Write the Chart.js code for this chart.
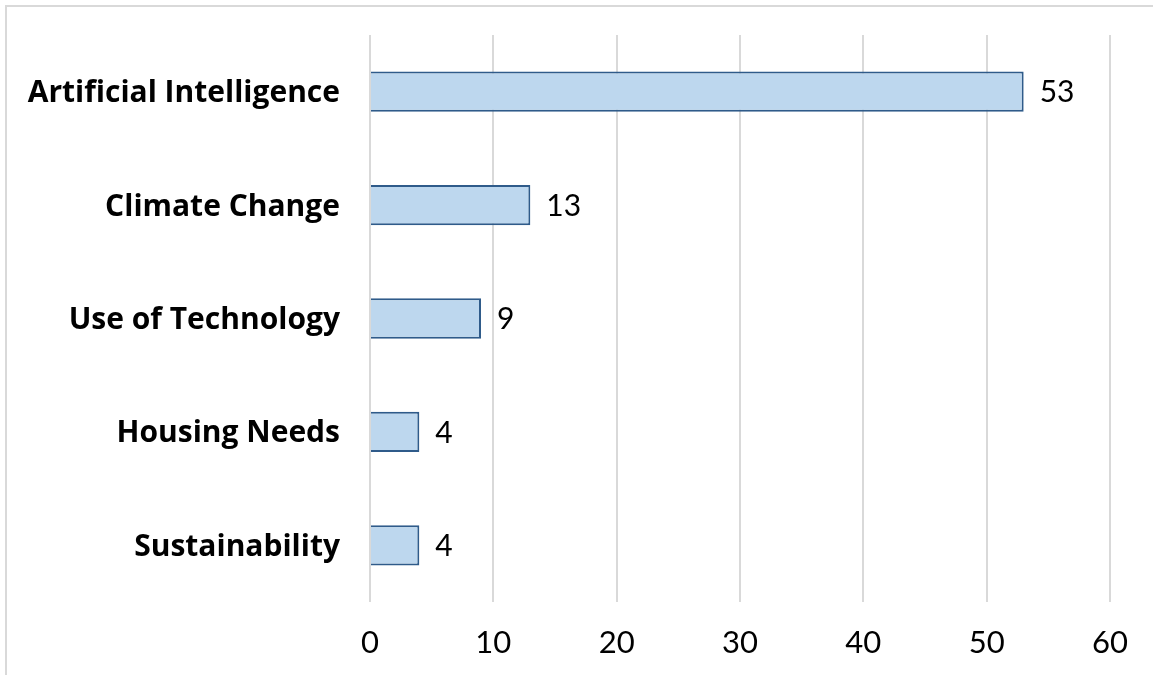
<!DOCTYPE html>
<html>
<head>
<meta charset="utf-8">
<script src="https://cdn.jsdelivr.net/npm/chart.js@4.4.1/dist/chart.umd.min.js"></script>
<style>
  html, body { margin: 0; padding: 0; background: #fff; overflow: hidden; }
  #frame {
    position: absolute; left: 5px; top: 5px; width: 1300px; height: 800px;
    border-left: 2px solid #d9d9d9; border-top: 2px solid #d9d9d9;
  }
  #wrap { position: absolute; left: 0; top: 0; width: 1153px; height: 675px; }
</style>
</head>
<body>
<div id="frame"></div>
<div id="wrap"><canvas id="myChart" width="1153" height="675"></canvas></div>
<script>
// temas y numero de menciones
const categorias = ['Artificial Intelligence', 'Climate Change', 'Use of Technology', 'Housing Needs', 'Sustainability'];
const menciones = [53, 13, 9, 4, 4];
const ticksX = [0, 10, 20, 30, 40, 50, 60];

const fuente = 'Lato, "Liberation Sans", sans-serif';
const fuenteNegrita = '"Open Sans", Lato, sans-serif';

// escribe el valor al final de cada barra
const etiquetasValor = {
  id: 'etiquetasValor',
  afterDatasetsDraw(chart) {
    const ctx = chart.ctx;
    const meta = chart.getDatasetMeta(0);
    ctx.save();
    ctx.font = '30px ' + fuente;
    ctx.fillStyle = '#000';
    ctx.textAlign = 'left';
    ctx.textBaseline = 'middle';
    meta.data.forEach(function(bar, i) {
      ctx.fillText(menciones[i], bar.x + 16, bar.y + 1);
    });
    ctx.restore();
  }
};

new Chart(document.getElementById('myChart'), {
  type: 'bar',
  data: {
    labels: categorias,
    datasets: [{
      data: menciones,
      backgroundColor: '#bdd7ee',
      borderColor: '#2f5b8a',
      borderWidth: 2,
      borderSkipped: 'left',
      categoryPercentage: 1,
      barPercentage: 0.355
    }]
  },
  options: {
    indexAxis: 'y',
    responsive: false,
    animation: false,
    layout: { padding: { left: 0, right: 43, top: 35, bottom: 0 } },
    plugins: { legend: { display: false }, tooltip: { enabled: false } },
    scales: {
      x: {
        min: 0, max: 60,
        afterBuildTicks(axis) { axis.ticks = ticksX.map(v => ({ value: v })); },
        afterFit(axis) { axis.height = 73; },
        grid: { color: '#d9d9d9', lineWidth: 2, drawTicks: false },
        border: { display: false },
        ticks: { color: '#000', padding: 22, font: { family: fuente, size: 31 } }
      },
      y: {
        afterFit(axis) {
          axis.width = 370;
          axis.paddingTop = 0;
          axis.paddingBottom = 0;
        },
        grid: { display: false },
        border: { display: false },
        ticks: { color: '#000', padding: 22, labelOffset: 2, font: { family: fuenteNegrita, size: 30, weight: 'bold' } }
      }
    }
  },
  plugins: [etiquetasValor]
});
</script>
</body>
</html>
